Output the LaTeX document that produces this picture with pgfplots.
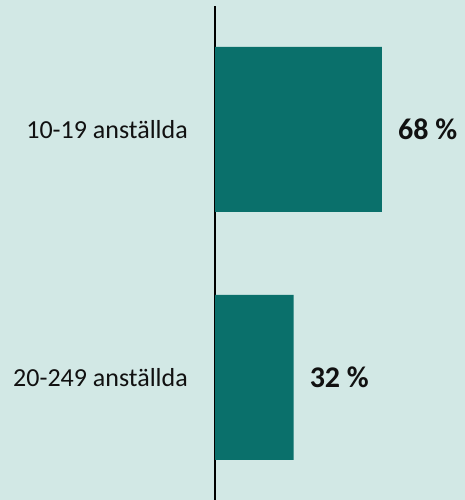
\documentclass[border=0pt]{standalone}
\usepackage{pgfplots}
\pgfplotsset{compat=1.18}
\usepackage{fontspec}
\setmainfont{Carlito}
\definecolor{bg}{HTML}{D2E8E5}
\definecolor{barc}{HTML}{0A706B}
\definecolor{txt}{HTML}{111111}
\begin{document}
\begin{tikzpicture}
\fill[bg] (0,0) rectangle (465bp,500bp);
\useasboundingbox (0,0) rectangle (465bp,500bp);
\begin{axis}[
 at={(215bp,0bp)}, anchor=south west,
 scale only axis, width=250bp, height=494bp,
 xmin=0, xmax=101.8, ymin=0, ymax=494,
 /pgf/number format/assume math mode=true,
 axis x line=none, axis y line*=left,
 y axis line style={black, line width=1.5bp, -},
 ytick={122.5,370.5}, yticklabels={20-249 anställda,10-19 anställda},
 major tick length=0pt,
 yticklabel style={font=\fontsize{26bp}{30bp}\selectfont, text=txt, inner sep=0pt, xshift=-27bp},
 xbar, bar width=165bp,
 nodes near coords={\pgfmathprintnumber{\pgfplotspointmeta}\ \%},
 nodes near coords style={font=\fontsize{30bp}{34bp}\selectfont\bfseries, text=txt, anchor=west, inner sep=0pt, xshift=16bp},
 clip=false,
]
\addplot[fill=barc, draw=none] coordinates {(68,370.5) (32,122.5)};
\end{axis}
\end{tikzpicture}
\end{document}
